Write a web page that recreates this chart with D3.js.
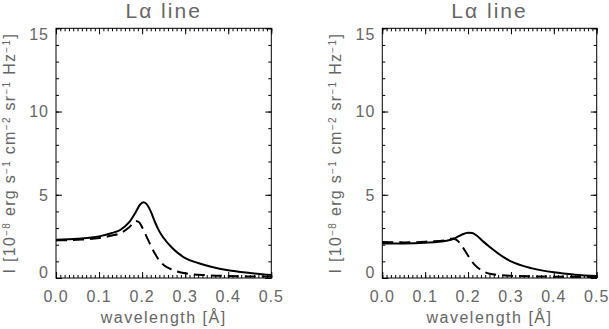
<!DOCTYPE html>
<html>
<head>
<meta charset="utf-8">
<script src="https://cdn.jsdelivr.net/npm/d3@7"></script>
<style>
  body { margin: 0; background: #fff; }
  svg text { font-family: "Liberation Sans", Arial, sans-serif; fill: #666; }
</style>
</head>
<body>
<div id="chart"></div>
<script>
// wavelength grids and intensities (10^-8 erg s^-1 cm^-2 sr^-1 Hz^-1)
const leftSolidX  = [0, 0.05, 0.1, 0.13, 0.15, 0.17, 0.185, 0.195, 0.203, 0.21, 0.22, 0.23, 0.24, 0.25, 0.27, 0.3, 0.33, 0.36, 0.4, 0.45, 0.5];
const leftSolidY  = [2.3, 2.36, 2.5, 2.7, 2.9, 3.35, 3.95, 4.4, 4.55, 4.45, 4.0, 3.35, 2.8, 2.4, 1.8, 1.2, 0.9, 0.68, 0.46, 0.3, 0.18];
const leftDashX   = [0, 0.05, 0.1, 0.13, 0.15, 0.17, 0.185, 0.193, 0.2, 0.21, 0.22, 0.23, 0.24, 0.25, 0.27, 0.3, 0.35, 0.4, 0.5];
const leftDashY   = [2.26, 2.3, 2.4, 2.55, 2.7, 3.05, 3.42, 3.35, 3.05, 2.5, 1.95, 1.45, 1.05, 0.78, 0.5, 0.28, 0.17, 0.12, 0.08];
const rightSolidX = [0, 0.05, 0.1, 0.15, 0.17, 0.185, 0.2, 0.21, 0.22, 0.235, 0.25, 0.28, 0.3, 0.35, 0.4, 0.45, 0.5];
const rightSolidY = [2.08, 2.08, 2.12, 2.24, 2.4, 2.6, 2.72, 2.7, 2.55, 2.2, 1.88, 1.3, 1.0, 0.58, 0.34, 0.2, 0.12];
const rightDashX  = [0, 0.05, 0.1, 0.15, 0.165, 0.175, 0.185, 0.195, 0.205, 0.215, 0.23, 0.25, 0.3, 0.4, 0.5];
const rightDashY  = [2.16, 2.14, 2.18, 2.28, 2.38, 2.25, 1.95, 1.55, 1.15, 0.8, 0.48, 0.26, 0.13, 0.08, 0.06];

const xMajor = [0, 0.1, 0.2, 0.3, 0.4, 0.5];
const yMajor = [0, 5, 10, 15];
const titleText = "L\u03b1 line";

const W = 609, H = 329;
const plotTop = 28.3, plotBottom = 278;
const panels = [
  { left: 56, right: 271.3, solid: [leftSolidX, leftSolidY], dash: [leftDashX, leftDashY] },
  { left: 382.3, right: 596.7, solid: [rightSolidX, rightSolidY], dash: [rightDashX, rightDashY] }
];

const svg = d3.select("#chart").append("svg")
  .attr("width", W)
  .attr("height", H);

const xMinor = d3.range(0, 51).map(i => i / 100);
const yMinor = d3.range(0, 16);

panels.forEach(p => {
  const x = d3.scaleLinear().domain([0, 0.5]).range([p.left, p.right]);
  const y = d3.scaleLinear().domain([0, 15]).range([plotBottom, plotTop]);
  const g = svg.append("g");

  // ticks on all four sides, pointing inward: minor then major
  const tickSets = [[xMinor, yMinor, 3], [xMajor, yMajor, 6]];
  tickSets.forEach(([xv, yv, len]) => {
    const axes = [
      [d3.axisBottom(x).tickValues(xv), `translate(0,${plotBottom})`],
      [d3.axisTop(x).tickValues(xv), `translate(0,${plotTop})`],
      [d3.axisLeft(y).tickValues(yv), `translate(${p.left},0)`],
      [d3.axisRight(y).tickValues(yv), `translate(${p.right},0)`]
    ];
    axes.forEach(([ax, tr]) => {
      const a = g.append("g").attr("transform", tr)
        .call(ax.tickSize(-len).tickFormat(""));
      a.select(".domain").remove();
      a.selectAll("line").attr("stroke", "#000");
    });
  });

  // frame
  g.append("rect")
    .attr("x", p.left).attr("y", plotTop)
    .attr("width", p.right - p.left).attr("height", plotBottom - plotTop)
    .attr("fill", "none").attr("stroke", "#000").attr("stroke-width", 1);

  // x tick labels
  g.selectAll(".xl").data(xMajor).enter().append("text")
    .attr("x", d => x(d))
    .attr("y", 302)
    .attr("text-anchor", "middle")
    .style("font-size", "16px")
    .style("letter-spacing", "1px")
    .text(d => d.toFixed(1));

  // y tick labels (end ones kept inside the frame like IDL)
  g.selectAll(".yl").data(yMajor).enter().append("text")
    .attr("x", p.left - 7)
    .attr("y", d => y(d))
    .attr("dy", d => d === 15 ? "0.72em" : d === 0 ? "0em" : "0.36em")
    .attr("text-anchor", "end")
    .style("font-size", "16px")
    .style("letter-spacing", "1px")
    .text(d => d);

  // title
  g.append("text")
    .attr("x", (p.left + p.right) / 2)
    .attr("y", 18)
    .attr("text-anchor", "middle")
    .style("font-size", "21px")
    .style("letter-spacing", "2px")
    .text(titleText);

  // x label
  g.append("text")
    .attr("x", (p.left + p.right) / 2)
    .attr("y", 323)
    .attr("text-anchor", "middle")
    .style("font-size", "16px")
    .style("letter-spacing", "1.5px")
    .text("wavelength [\u00c5]");

  // y label
  const yl = g.append("text")
    .attr("transform", `translate(${p.left - 41},${(plotTop + plotBottom) / 2}) rotate(-90)`)
    .attr("text-anchor", "middle")
    .style("font-size", "16px")
    .style("letter-spacing", "1.3px");
  const parts = [["I [10", false], ["-8", true], [" erg s", false], ["-1", true], [" cm", false], ["-2", true],
                 [" sr", false], ["-1", true], [" Hz", false], ["-1", true], ["]", false]];
  parts.forEach(([t, sup], i) => {
    const ts = yl.append("tspan").text(sup ? t.replace("-", "\u2212") : t);
    if (sup) ts.attr("dy", "-0.55em").style("font-size", "10px");
    else if (i > 0) ts.attr("dy", "0.344em");
  });

  const line = d3.line()
    .x(d => x(d[0]))
    .y(d => y(d[1]))
    .curve(d3.curveMonotoneX);

  const solidPts = p.solid[0].map((v, i) => [v, p.solid[1][i]]);
  const dashPts = p.dash[0].map((v, i) => [v, p.dash[1][i]]);

  g.append("path").datum(dashPts)
    .attr("d", line)
    .attr("fill", "none").attr("stroke", "#000").attr("stroke-width", 2)
    .attr("stroke-dasharray", "11,6");

  g.append("path").datum(solidPts)
    .attr("d", line)
    .attr("fill", "none").attr("stroke", "#000").attr("stroke-width", 2);
});
</script>
</body>
</html>
